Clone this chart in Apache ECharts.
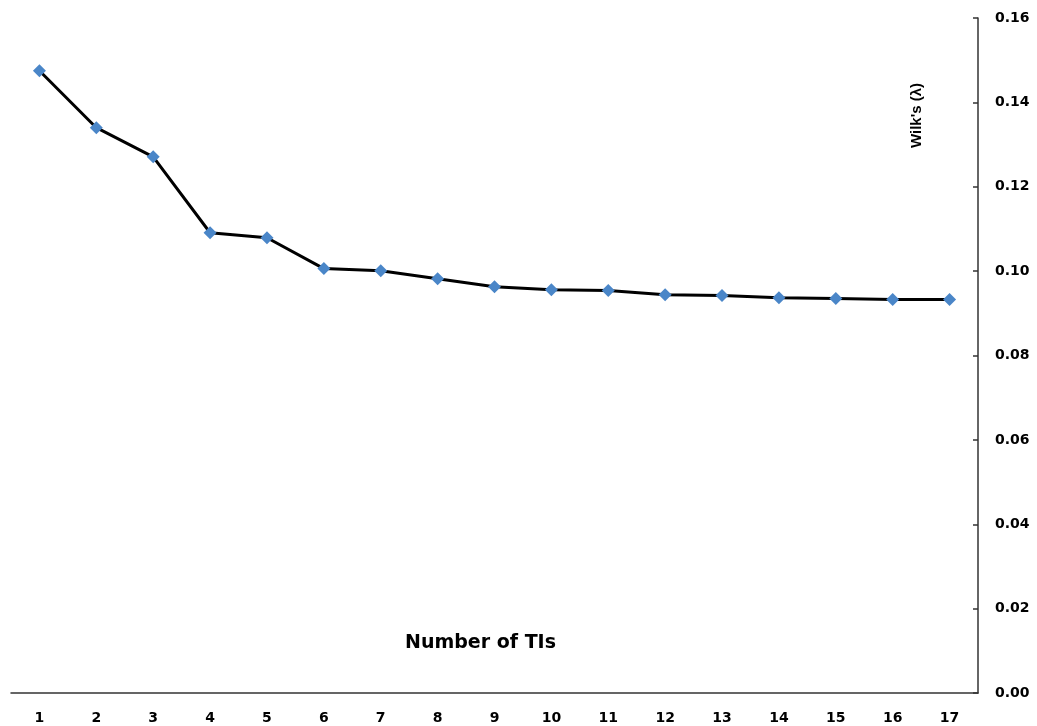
<!DOCTYPE html>
<html><head><meta charset="utf-8">
<script src="https://cdn.jsdelivr.net/npm/echarts@6/dist/echarts.min.js"></script>
<style>html,body{margin:0;padding:0;background:#fff}#c{width:1037px;height:726px}</style>
</head><body><div id="c"></div>
<script>
const categories = ['1','2','3','4','5','6','7','8','9','10','11','12','13','14','15','16','17'];
const wilks = [0.1475,0.1340,0.1271,0.1091,0.1079,0.1006,0.1001,0.0982,0.0963,0.0956,0.0954,0.0944,0.0942,0.0937,0.0935,0.0933,0.0933];
const yTicks = {min:0, max:0.16, interval:0.02};
const xTitle = 'Number of TIs';
const yTitle = "Wilk's (λ)";

const wide = '"DejaVu Sans", sans-serif';
const arial = '"Liberation Sans", Arial, sans-serif';
const chart = echarts.init(document.getElementById('c'), null, {renderer:'canvas'});
chart.setOption({
  animation:false,
  grid:{left:11,right:59,top:18,bottom:33},
  xAxis:{type:'category',data:categories,boundaryGap:true,
    axisLine:{lineStyle:{color:'#333',width:1.5}},
    axisTick:{inside:true,alignWithLabel:true,length:5,lineStyle:{color:'#333',width:1.5}},
    axisLabel:{color:'#000',fontWeight:'bold',fontSize:14,fontFamily:wide,margin:18},
    splitLine:{show:false}},
  yAxis:{type:'value',position:'right',min:yTicks.min,max:yTicks.max,interval:yTicks.interval,
    axisLine:{show:true,lineStyle:{color:'#333',width:1.5}},
    axisTick:{show:true,inside:true,length:5,lineStyle:{color:'#333',width:1.5}},
    axisLabel:{color:'#000',fontWeight:'bold',fontSize:14,fontFamily:wide,margin:17,
      formatter:v=>v.toFixed(2)},
    splitLine:{show:false}},
  graphic:[
    {type:'text',left:405,top:634,style:{text:xTitle,font:'bold 19px '+wide,fill:'#000'}},
    {type:'text',x:909,y:148,rotation:Math.PI/2,style:{text:yTitle,font:'bold 15px '+arial,fill:'#000'}}
  ],
  series:[{type:'line',data:wilks,symbol:'diamond',symbolSize:13,
    lineStyle:{color:'#000',width:3},
    itemStyle:{color:'#4a86c8',borderWidth:0}}]
});
</script></body></html>
